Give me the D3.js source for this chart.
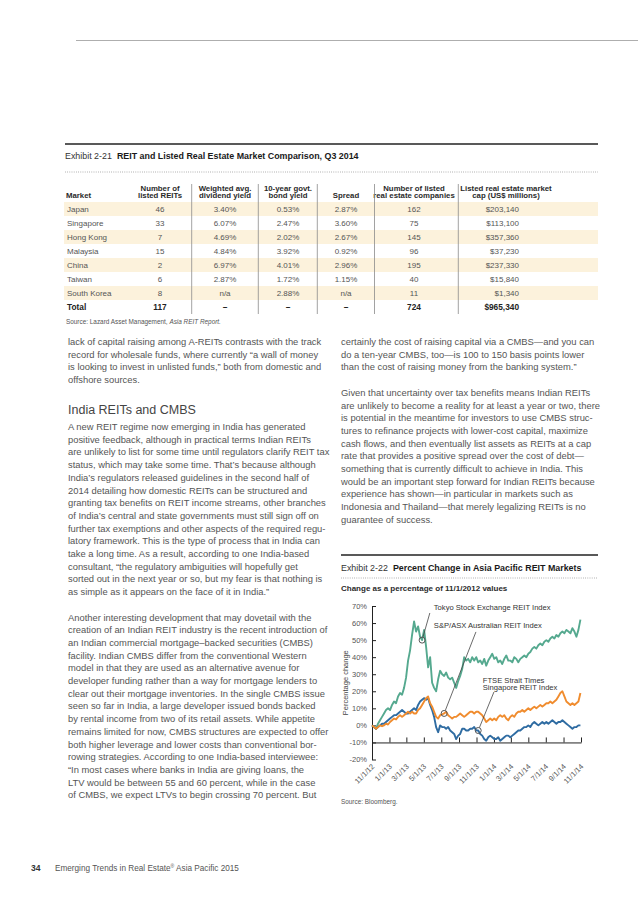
<!DOCTYPE html>
<html><head><meta charset="utf-8">
<script src="https://cdn.jsdelivr.net/npm/d3@7"></script>
<style>
body{margin:0;background:#fff}
svg{display:block}
text{font-family:"Liberation Sans",Arial,Helvetica,sans-serif}
.nar{font-family:"Liberation Sans Narrow","Arial Narrow","Liberation Sans",sans-serif}
</style>
</head><body>
<svg id="c" width="638" height="903"></svg>
<script>
// ---------------- DATA ----------------
const markets   = ["Japan","Singapore","Hong Kong","Malaysia","China","Taiwan","South Korea"];
const listedREITs = [46,33,7,15,2,6,8];
const divYield  = ["3.40%","6.07%","4.69%","4.84%","6.97%","2.87%","n/a"];
const bondYield = ["0.53%","2.47%","2.02%","3.92%","4.01%","1.72%","2.88%"];
const spreadVal = ["2.87%","3.60%","2.67%","0.92%","2.96%","1.15%","n/a"];
const listedCos = [162,75,145,96,195,40,11];
const marketCap = ["$203,140","$113,100","$357,360","$37,230","$237,330","$15,840","$1,340"];
const totalRow  = ["Total","117","–","–","–","724","$965,340"];

const headers = [["Number of","listed REITs"],["Weighted avg.","dividend yield"],["10-year govt.","bond yield"],["Spread"],["Number of listed","real estate companies"],["Listed real estate market","cap (US$ millions)"]];

// Chart: weekly readings starting 11/1/2012 (percent change vs 11/1/2012)
const chartStart = "2012-11-01";
const tokyo = [0,-1,-2,1,3,5,7,9,10,9,12,14,13,17,19,18,22,28,38,44,53,61,55,58,52,50,56,46,34,40,
  25,22,20,27,32,30,29,31,28,27,28,25,22,26,29,33,40,38,39,37,40,38,40,37,38,36,39,35,38,40,
  42,39,40,37,38,36,39,41,38,38,37,40,39,37,39,40,41,40,42,43,45,46,45,47,48,47,49,50,49,51,
  52,51,53,52,54,55,54,56,55,54,57,55,52,56,62];
const australia = [0,-1,-2,-1,0,-0.5,0,1,0.5,2,3,4,3.5,5,6,5,6,7,8,7,8,7,7,9,10,12,14,16,17,13,
  11,8,5,4,6,6.5,7,8,6,5,4,5,5,6,7,6,5,6,7,8,8,7,8,8,7,6,4,2,3,4,
  3,4,3,5,6,5,6,4,3,5,6,5,7,8,8,9,8,9,10,9,10,11,10,11,12,11,12,13,13,14,
  13,14,15,17,19,20,17,14,13,12,13,12,13,14,19];
const singapore = [0,-1,-2,-1,0,1,1,2,3,4,5,6,6,7,8,9,8,7,7,8,9,10,9,12,14,15,16,15,16,12,
  9,5,-1,-4,0,-1,-1,-2,-1,-3,-4,-5,-8,-6,-5,-2,-2,-3,-3,-2,-2,-1,-3,-3,-5,-6,-8,-9,-7,-6,
  -7,-8,-8,-7,-9,-8,-7,-6,-6,-7,-6,-5,-4,-3,-3,-2,-1,-1,0,-1,1,2,1,0,1,2,1,2,1,2,
  3,2,1,2,2,3,2,1,0,-1,-2,-1,-1,0,0];
const seriesNames = ["Tokyo Stock Exchange REIT Index","S&P/ASX Australian REIT Index","FTSE Strait Times Singapore REIT Index"];
const seriesColors = ["#55a98f","#f08c2e","#2f6ca2"];
const xTickLabels = ["11/1/12","1/1/13","3/1/13","5/1/13","7/1/13","9/1/13","11/1/13","1/1/14","3/1/14","5/1/14","7/1/14","9/1/14","11/1/14"];
const yTicks = [-20,-10,0,10,20,30,40,50,60,70];

// annotations: label anchor (date,value), leader start (date,value), marker index on series
const annotations = [
  {s:0, lines:["Tokyo Stock Exchange REIT Index"], tDate:"2013-06-05", tVal:[67.6], lDate:"2013-05-22", lVal:65.9, idx:25},
  {s:1, lines:["S&P/ASX Australian REIT Index"], tDate:"2013-06-05", tVal:[57.1], lDate:"2013-10-30", lVal:54.8, idx:36},
  {s:2, lines:["FTSE Strait Times","Singapore REIT Index"], tDate:"2013-11-23", tVal:[24.9,20.5], lDate:"2014-01-01", lVal:19.6, idx:53}
];

// body text
const leftP1 = ["lack of capital raising among A-REITs contrasts with the track",
"record for wholesale funds, where currently “a wall of money",
"is looking to invest in unlisted funds,” both from domestic and",
"offshore sources."];
const heading = "India REITs and CMBS";
const leftP2 = ["A new REIT regime now emerging in India has generated",
"positive feedback, although in practical terms Indian REITs",
"are unlikely to list for some time until regulators clarify REIT tax",
"status, which may take some time. That’s because although",
"India’s regulators released guidelines in the second half of",
"2014 detailing how domestic REITs can be structured and",
"granting tax benefits on REIT income streams, other branches",
"of India’s central and state governments must still sign off on",
"further tax exemptions and other aspects of the required regu-",
"latory framework. This is the type of process that in India can",
"take a long time. As a result, according to one India-based",
"consultant, “the regulatory ambiguities will hopefully get",
"sorted out in the next year or so, but my fear is that nothing is",
"as simple as it appears on the face of it in India.”"];
const leftP3 = ["Another interesting development that may dovetail with the",
"creation of an Indian REIT industry is the recent introduction of",
"an Indian commercial mortgage–backed securities (CMBS)",
"facility. Indian CMBS differ from the conventional Western",
"model in that they are used as an alternative avenue for",
"developer funding rather than a way for mortgage lenders to",
"clear out their mortgage inventories. In the single CMBS issue",
"seen so far in India, a large developer issued bonds backed",
"by rental income from two of its retail assets. While appetite",
"remains limited for now, CMBS structures are expected to offer",
"both higher leverage and lower costs than conventional bor-",
"rowing strategies. According to one India-based interviewee:",
"“In most cases where banks in India are giving loans, the",
"LTV would be between 55 and 60 percent, while in the case",
"of CMBS, we expect LTVs to begin crossing 70 percent. But"];
const rightP1 = ["certainly the cost of raising capital via a CMBS—and you can",
"do a ten-year CMBS, too—is 100 to 150 basis points lower",
"than the cost of raising money from the banking system.”"];
const rightP2 = ["Given that uncertainty over tax benefits means Indian REITs",
"are unlikely to become a reality for at least a year or two, there",
"is potential in the meantime for investors to use CMBS struc-",
"tures to refinance projects with lower-cost capital, maximize",
"cash flows, and then eventually list assets as REITs at a cap",
"rate that provides a positive spread over the cost of debt—",
"something that is currently difficult to achieve in India. This",
"would be an important step forward for Indian REITs because",
"experience has shown—in particular in markets such as",
"Indonesia and Thailand—that merely legalizing REITs is no",
"guarantee of success."];

// ---------------- DRAW ----------------
const svg = d3.select("#c");
svg.append("rect").attr("width",638).attr("height",903).attr("fill","#fff");
svg.append("line").attr("x1",76).attr("x2",638).attr("y1",40.5).attr("y2",40.5).attr("stroke","#999").attr("stroke-width",0.8);

function rule(x1,x2,y){svg.append("line").attr("x1",x1).attr("x2",x2).attr("y1",y).attr("y2",y).attr("stroke","#222").attr("stroke-width",1.4);}
function dots(x1,x2,y){svg.append("line").attr("x1",x1).attr("x2",x2).attr("y1",y).attr("y2",y).attr("stroke","#888").attr("stroke-width",0.8).attr("stroke-dasharray","0.8,1.4");}
function title(x,y,a,b){
  const t=svg.append("text").attr("x",x).attr("y",y).attr("font-size",8.9).attr("fill","#333");
  t.append("tspan").text(a);
  t.append("tspan").attr("dx",5).attr("font-weight","bold").attr("fill","#1a1a1a").text(b);
}

// ---- Table ----
rule(65,598,144);
title(65,159,"Exhibit 2-21","REIT and Listed Real Estate Market Comparison, Q3 2014");
dots(65,598,172);
const colC = [160,225,288,346,414,506];
const capRight = 519;
const rowY = d3.scaleLinear().domain([0,1]).range([209,223]);
const rows = markets.map((m,i)=>[m,String(listedREITs[i]),divYield[i],bondYield[i],spreadVal[i],String(listedCos[i]),marketCap[i]]);
rows.forEach((r,i)=>{
  const cy=rowY(i);
  if(i%2===0) svg.append("rect").attr("x",64).attr("width",534).attr("y",cy-7).attr("height",14).attr("fill","#fcf2dc");
});
const hdr = svg.append("g").attr("font-size",7.8).attr("font-weight","bold").attr("fill","#2a2a2a");
hdr.append("text").attr("class","nar").attr("x",66).attr("y",198).text("Market");
headers.forEach((h,i)=>{
  h.forEach((ln,j)=>{
    hdr.append("text").attr("class","nar").attr("x",colC[i]).attr("y",h.length===1?198:190.5+j*7.5).attr("text-anchor","middle").text(ln);
  });
});
[191.7,258.3,317.3,374.5,458.3].forEach(x=>{
  svg.append("line").attr("x1",x).attr("x2",x).attr("y1",184).attr("y2",314).attr("stroke","#8a8a8a").attr("stroke-width",0.8);
});
function drawRow(r,cy,bold){
  const g=svg.append("g").attr("font-size",bold?8.3:8).attr("fill",bold?"#222":"#555").attr("font-weight",bold?"bold":"normal");
  g.append("text").attr("class","nar").attr("x",67).attr("y",cy+3).text(r[0]);
  for(let k=1;k<=5;k++) g.append("text").attr("class","nar").attr("x",colC[k-1]).attr("y",cy+3).attr("text-anchor","middle").text(r[k]);
  g.append("text").attr("class","nar").attr("x",capRight).attr("y",cy+3).attr("text-anchor","end").text(r[6]);
}
rows.forEach((r,i)=>drawRow(r,rowY(i),false));
drawRow(totalRow,rowY(7),true);
const src=svg.append("text").attr("x",66).attr("y",324).attr("font-size",6.4).attr("fill","#555");
src.append("tspan").text("Source: Lazard Asset Management, ");
src.append("tspan").attr("font-style","italic").text("Asia REIT Report.");

// ---- Body text ----
const LH = 12.7;
function para(x,y0,lines){
  const t=svg.append("text").attr("font-size",9.4).attr("fill","#555");
  lines.forEach((l,i)=>t.append("tspan").attr("x",x).attr("y",y0+i*LH).text(l));
}
para(68,345,leftP1);
svg.append("text").attr("x",68).attr("y",413.5).attr("font-size",12.5).attr("fill","#444").text(heading);
para(68,430,leftP2);
para(68,430+15*LH,leftP3);
para(341,345,rightP1);
para(341,345+4*LH,rightP2);

// footer
svg.append("text").attr("x",31).attr("y",871).attr("font-size",8.5).attr("font-weight","bold").attr("fill","#333").text("34");
const ft=svg.append("text").attr("x",55).attr("y",871).attr("font-size",8.2).attr("fill","#555");
ft.append("tspan").text("Emerging Trends in Real Estate");
ft.append("tspan").attr("font-size",5).attr("dy",-3).text("®");
ft.append("tspan").attr("dy",3).text(" Asia Pacific 2015");

// ---- Chart ----
rule(341,598,555);
title(341,570.5,"Exhibit 2-22","Percent Change in Asia Pacific REIT Markets");
dots(341,598,578);
svg.append("text").attr("class","nar").attr("x",341).attr("y",591).attr("font-size",8).attr("font-weight","bold").attr("fill","#2a2a2a").text("Change as a percentage of 11/1/2012 values");

const parseD = d3.timeParse("%Y-%m-%d");
const parseT = d3.timeParse("%m/%d/%y");
const t0 = parseD(chartStart);
const dates = tokyo.map((_,i)=>d3.timeDay.offset(t0,7*i));
const tickDates = xTickLabels.map(parseT);
const x = d3.scaleTime().domain([tickDates[0],tickDates[tickDates.length-1]]).range([372,581]);
const y = d3.scaleLinear().domain([-20,70]).range([759.5,606]);

const yAx = svg.append("g").attr("transform","translate(372,0)")
  .call(d3.axisLeft(y).tickValues(yTicks).tickSize(-4).tickSizeOuter(0).tickPadding(5).tickFormat(d=>d+"%"));
yAx.select(".domain").attr("stroke","#222").attr("stroke-width",1);
yAx.selectAll(".tick line").attr("stroke","#222");
yAx.selectAll("text").attr("font-size",7.5).attr("fill","#555").attr("font-family","Liberation Sans, Arial, sans-serif");

const xAx = svg.append("g").attr("transform",`translate(0,${y(-10)})`)
  .call(d3.axisBottom(x).tickValues(tickDates).tickSize(-5).tickSizeOuter(0).tickFormat(""));
xAx.select(".domain").attr("stroke","#222").attr("stroke-width",1);
xAx.selectAll(".tick line").attr("stroke","#222");

svg.append("g").selectAll("text").data(tickDates).join("text")
  .attr("transform",(d,i)=>`translate(${x(d)+3},767) rotate(-45)`)
  .attr("text-anchor","end").attr("font-size",7.5).attr("fill","#555")
  .text((d,i)=>xTickLabels[i]);

svg.append("text").attr("transform",`translate(348,${y(25)}) rotate(-90)`).attr("text-anchor","middle")
  .attr("font-size",7.5).attr("fill","#444").text("Percentage change");

const allSeries = [tokyo,australia,singapore];
const line = d3.line().x((d,i)=>x(dates[i])).y(d=>y(d));
[0,2,1].forEach(s=>{
  svg.append("path").datum(allSeries[s]).attr("d",line).attr("fill","none")
    .attr("stroke",seriesColors[s]).attr("stroke-width",1.9).attr("stroke-linejoin","round");
});

annotations.forEach(a=>{
  const cx=x(dates[a.idx]), cy=y(allSeries[a.s][a.idx]);
  const lx=x(parseD(a.lDate)), ly=y(a.lVal);
  const dx=lx-cx, dy=ly-cy, L=Math.hypot(dx,dy), r=3;
  svg.append("line").attr("x1",lx).attr("y1",ly).attr("x2",cx+dx/L*r).attr("y2",cy+dy/L*r).attr("stroke","#444").attr("stroke-width",0.8);
  svg.append("circle").attr("cx",cx).attr("cy",cy).attr("r",r).attr("fill","none").attr("stroke","#555").attr("stroke-width",1);
  a.lines.forEach((ln,j)=>{
    svg.append("text").attr("x",x(parseD(a.tDate))).attr("y",y(a.tVal[j])).attr("font-size",7.6).attr("fill","#333").text(ln);
  });
});

svg.append("text").attr("x",341).attr("y",804).attr("font-size",6.4).attr("fill","#555").text("Source: Bloomberg.");
</script>
</body></html>
